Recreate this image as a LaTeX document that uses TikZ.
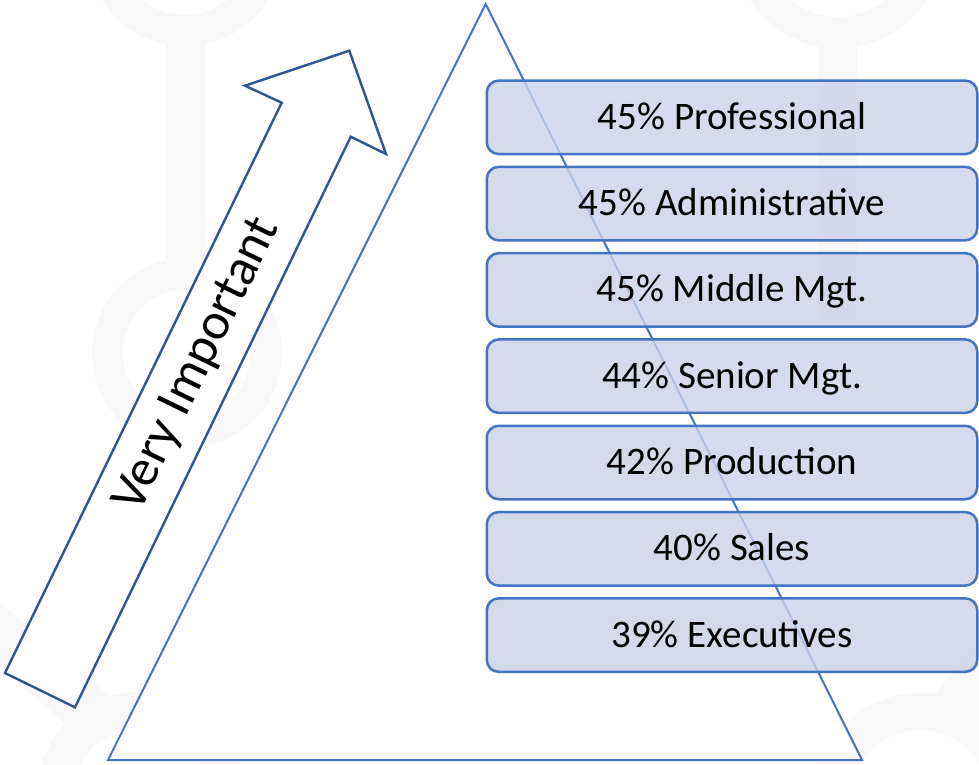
\documentclass[tikz,border=0pt]{standalone}
\usepackage{fontspec}
\setmainfont{Carlito}
\usetikzlibrary{positioning}

\definecolor{lineblue}{RGB}{68,114,196}
\definecolor{darkblue}{RGB}{47,85,151}
\definecolor{boxfill}{RGB}{203,209,231}
\definecolor{markgray}{RGB}{248,248,248}

\begin{document}
\begin{tikzpicture}[x=1pt,y=1pt,
        grpbox/.style={draw=lineblue, line width=2.5pt, fill=boxfill, fill opacity=0.8, text opacity=1,
            rounded corners=12pt, minimum width=490.5pt, minimum height=73.5pt,
            text height=24pt, text depth=0pt, font=\fontsize{39}{42}\selectfont},
        mark ring/.style={fill=markgray, even odd rule},
        node distance=10.3pt]
    \useasboundingbox (0,0) rectangle (979,-764);
    \clip (0,0) rectangle (979,-764);

    % faint rings in the background
    \fill[mark ring] (185,52) circle (98) (185,52) circle (67);
    \fill[markgray] (166,-40) rectangle (205,-265);
    \fill[mark ring] (187,-353) circle (95) (187,-353) circle (64);
    \fill[markgray] (0,-603) -- (0,-667) -- (90,-745) -- (120,-705) -- cycle;
    \fill[mark ring] (140,-795) circle (103) (140,-795) circle (67);
    \fill[mark ring] (838,57) circle (105) (838,57) circle (74);
    \fill[markgray] (818,-45) rectangle (857,-320);
    \fill[markgray] (979,-640) -- (979,-720) -- (955,-735) -- (930,-700) -- cycle;
    \fill[mark ring] (920,-800) circle (107) (920,-800) circle (70);

    % pyramid
    \draw[lineblue, line width=2pt, fill=white] (108,-760) -- (485.7,-4) -- (862,-760) -- cycle;

    % groups, top to bottom
    \node[grpbox] (prof) at (732,-117.3) {45\% Professional};
    \node[grpbox, below=of prof] (admin) {45\% Administrative};
    \node[grpbox, below=of admin] (middle) {45\% Middle Mgt.};
    \node[grpbox, below=of middle] (senior) {44\% Senior Mgt.};
    \node[grpbox, below=of senior] (prod) {42\% Production};
    \node[grpbox, below=of prod] (sales) {40\% Sales};
    \node[grpbox, below=of sales] (exec) {39\% Executives};

    % rising arrow
    \draw[darkblue, line width=2.4pt, fill=white]
        (5,-673) -- (281.7,-102.7) -- (245,-85.7) -- (349.3,-50.7)
        -- (386,-154) -- (350.7,-136.7) -- (75,-707.3) -- cycle;
    \node[rotate=64, font=\fontsize{52}{56}\selectfont] (very) at (198,-365) {Very Important};
\end{tikzpicture}
\end{document}
